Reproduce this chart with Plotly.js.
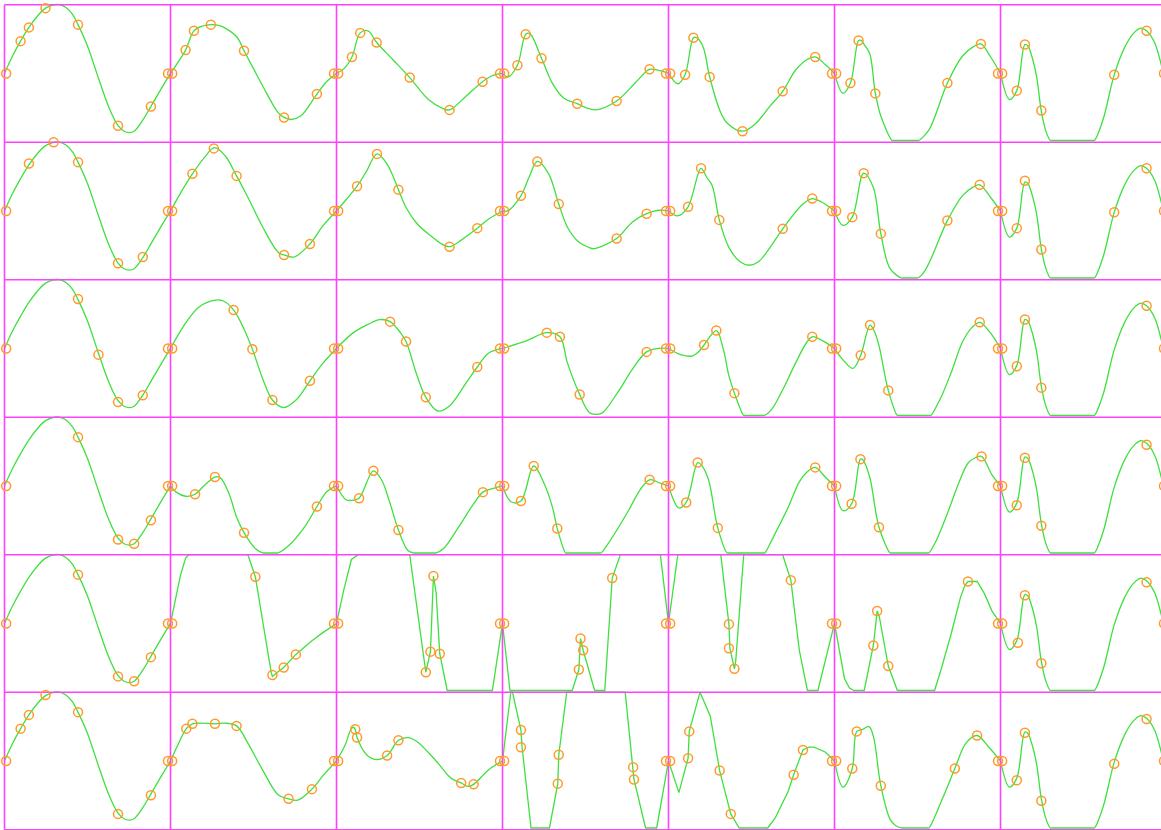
<!DOCTYPE html>
<html><head><meta charset="utf-8">
<script src="https://cdn.plot.ly/plotly-3.0.1.min.js"></script>
<style>html,body{margin:0;padding:0;overflow:hidden;background:#fff}#chart{width:1161px;height:830px}</style>
</head><body><div id="chart"></div>
<script>
// Each panel: local x in [0,1], local y in [-1,1] (0 = panel middle)
const COL1_CURVE=[[0,0],[0.05,0.26],[0.097,0.47],[0.147,0.67],[0.2,0.84],[0.247,0.95],[0.29,0.995],[0.33,1.0],[0.37,0.96],[0.41,0.86],[0.443,0.71],[0.5,0.4],[0.566,-0.07],[0.63,-0.5],[0.684,-0.76],[0.72,-0.84],[0.753,-0.86],[0.781,-0.84],[0.833,-0.68],[0.882,-0.48],[0.94,-0.24],[1,0]];
const COL7_CURVE=[[0,0],[0.054,-0.38],[0.098,-0.25],[0.147,0.42],[0.165,0.40],[0.185,0.28],[0.217,-0.04],[0.246,-0.55],[0.275,-0.85],[0.30,-0.975],[0.306,-0.975],[0.56,-0.975],[0.566,-0.975],[0.618,-0.67],[0.685,-0.02],[0.75,0.39],[0.80,0.58],[0.845,0.66],[0.88,0.62],[0.93,0.44],[0.985,0],[1,-0.05]];

// Row 1
const R1C1_MARKS=[[0.01,0],[0.097,0.47],[0.147,0.67],[0.247,0.95],[0.443,0.71],[0.684,-0.76],[0.882,-0.48],[0.985,0]];
const R1C2_CURVE=[[0,0],[0.045,0.16],[0.091,0.34],[0.141,0.62],[0.193,0.69],[0.243,0.71],[0.29,0.70],[0.33,0.66],[0.4,0.53],[0.443,0.33],[0.5,0.07],[0.557,-0.19],[0.648,-0.57],[0.684,-0.64],[0.727,-0.67],[0.784,-0.62],[0.882,-0.3],[0.94,-0.12],[1,0]];
const R1C2_MARKS=[[0.01,0],[0.091,0.34],[0.141,0.62],[0.243,0.71],[0.443,0.33],[0.684,-0.64],[0.882,-0.3],[0.985,0]];
const R1C3_CURVE=[[0,0],[0.045,0.07],[0.093,0.24],[0.143,0.59],[0.19,0.62],[0.242,0.45],[0.34,0.2],[0.441,-0.06],[0.554,-0.38],[0.633,-0.5],[0.681,-0.53],[0.78,-0.33],[0.88,-0.12],[0.94,-0.03],[1,0]];
const R1C3_MARKS=[[0.01,0],[0.093,0.24],[0.143,0.59],[0.242,0.45],[0.441,-0.06],[0.681,-0.53],[0.88,-0.12],[0.985,0]];
const R1C4_CURVE=[[0,0],[0.034,-0.05],[0.09,0.12],[0.14,0.57],[0.165,0.58],[0.235,0.22],[0.30,-0.14],[0.37,-0.36],[0.45,-0.44],[0.505,-0.5],[0.56,-0.53],[0.6875,-0.40],[0.806,-0.12],[0.886,0.06],[0.95,0.04],[1,0]];
const R1C4_MARKS=[[0.01,0],[0.09,0.12],[0.14,0.57],[0.235,0.22],[0.45,-0.44],[0.6875,-0.40],[0.886,0.06],[0.985,0]];
const R1C5_CURVE=[[0,0],[0.056,-0.15],[0.1,-0.02],[0.15,0.52],[0.17,0.52],[0.208,0.39],[0.248,-0.05],[0.308,-0.53],[0.353,-0.72],[0.446,-0.84],[0.52,-0.74],[0.61,-0.48],[0.688,-0.26],[0.766,0.05],[0.833,0.2],[0.884,0.24],[0.944,0.13],[1,0]];
const R1C5_MARKS=[[0.01,0],[0.1,-0.02],[0.15,0.52],[0.248,-0.05],[0.446,-0.84],[0.688,-0.26],[0.884,0.24],[0.985,0]];
const R1C6_CURVE=[[0,0],[0.051,-0.29],[0.096,-0.14],[0.145,0.48],[0.16,0.48],[0.179,0.42],[0.212,0.29],[0.246,-0.29],[0.279,-0.62],[0.346,-0.975],[0.352,-0.975],[0.501,-0.975],[0.507,-0.975],[0.569,-0.82],[0.68,-0.14],[0.77,0.25],[0.837,0.39],[0.882,0.43],[0.938,0.25],[1,0]];
const R1C6_MARKS=[[0.01,0],[0.096,-0.14],[0.145,0.48],[0.246,-0.29],[0.68,-0.14],[0.882,0.43],[0.985,0]];
const R1C7_MARKS=[[0.01,0],[0.098,-0.25],[0.147,0.42],[0.246,-0.54],[0.685,-0.02],[0.88,0.62],[0.985,0]];

// Row 2
const R2C1_MARKS=[[0.01,0],[0.147,0.69],[0.296,1.0],[0.443,0.71],[0.684,-0.76],[0.833,-0.67],[0.985,0]];
const R2C2_CURVE=[[0,0],[0.07,0.3],[0.132,0.54],[0.205,0.78],[0.265,0.92],[0.33,0.8],[0.398,0.51],[0.466,0.2],[0.557,-0.24],[0.648,-0.6],[0.684,-0.64],[0.745,-0.67],[0.84,-0.48],[0.92,-0.21],[1,0]];
const R2C2_MARKS=[[0.01,0],[0.132,0.54],[0.261,0.91],[0.398,0.51],[0.684,-0.64],[0.84,-0.48],[0.985,0]];
const R2C3_CURVE=[[0,0],[0.06,0.17],[0.124,0.36],[0.181,0.58],[0.244,0.83],[0.305,0.68],[0.373,0.31],[0.419,0.05],[0.487,-0.19],[0.577,-0.38],[0.633,-0.48],[0.681,-0.52],[0.76,-0.41],[0.848,-0.25],[0.915,-0.12],[1,0]];
const R2C3_MARKS=[[0.01,0],[0.124,0.36],[0.244,0.83],[0.373,0.31],[0.681,-0.52],[0.848,-0.25],[0.985,0]];
const R2C4_CURVE=[[0,0],[0.03,0.0],[0.111,0.22],[0.16,0.49],[0.21,0.72],[0.278,0.54],[0.339,0.1],[0.392,-0.24],[0.459,-0.45],[0.52,-0.53],[0.549,-0.55],[0.6875,-0.40],[0.783,-0.16],[0.868,-0.04],[0.94,0.01],[1,0]];
const R2C4_MARKS=[[0.01,0],[0.111,0.22],[0.21,0.72],[0.339,0.1],[0.6875,-0.40],[0.868,-0.04],[0.985,0]];
const R2C5_CURVE=[[0,0],[0.056,-0.07],[0.118,0.06],[0.196,0.62],[0.23,0.49],[0.263,0.37],[0.306,-0.13],[0.364,-0.53],[0.431,-0.74],[0.487,-0.79],[0.542,-0.74],[0.62,-0.5],[0.688,-0.26],[0.81,0.1],[0.866,0.18],[0.922,0.13],[1,0]];
const R2C5_MARKS=[[0.01,0],[0.118,0.06],[0.196,0.62],[0.306,-0.13],[0.688,-0.26],[0.866,0.18],[0.985,0]];
const R2C6_CURVE=[[0,0],[0.051,-0.21],[0.107,-0.09],[0.176,0.55],[0.234,0.34],[0.279,-0.33],[0.335,-0.84],[0.402,-0.975],[0.408,-0.975],[0.496,-0.975],[0.502,-0.975],[0.547,-0.86],[0.68,-0.14],[0.77,0.22],[0.837,0.35],[0.875,0.38],[0.949,0.17],[1,0]];
const R2C6_MARKS=[[0.01,0],[0.107,-0.09],[0.176,0.55],[0.279,-0.33],[0.68,-0.14],[0.875,0.38],[0.985,0]];
const R2C7_MARKS=[[0.01,0],[0.098,-0.25],[0.147,0.44],[0.246,-0.56],[0.685,-0.02],[0.88,0.62],[0.985,0]];

// Row 3
const R3C1_MARKS=[[0.01,0],[0.443,0.72],[0.566,-0.09],[0.684,-0.78],[0.833,-0.68],[0.985,0]];
const R3C2_CURVE=[[0,0],[0.08,0.33],[0.17,0.6],[0.261,0.7],[0.318,0.69],[0.38,0.56],[0.443,0.28],[0.493,-0.01],[0.557,-0.45],[0.614,-0.75],[0.682,-0.86],[0.761,-0.74],[0.84,-0.47],[0.92,-0.21],[1,0]];
const R3C2_MARKS=[[0.01,0],[0.38,0.56],[0.493,-0.01],[0.614,-0.75],[0.84,-0.47],[0.985,0]];
const R3C3_CURVE=[[0,0],[0.102,0.23],[0.19,0.35],[0.26,0.42],[0.323,0.39],[0.385,0.23],[0.419,0.1],[0.486,-0.4],[0.538,-0.71],[0.611,-0.91],[0.679,-0.84],[0.781,-0.5],[0.848,-0.27],[0.915,-0.07],[1,0]];
const R3C3_MARKS=[[0.01,0],[0.323,0.39],[0.419,0.1],[0.538,-0.71],[0.848,-0.27],[0.985,0]];
const R3C4_CURVE=[[0,0],[0.143,0.11],[0.267,0.23],[0.346,0.17],[0.391,-0.21],[0.465,-0.67],[0.523,-0.93],[0.571,-0.96],[0.605,-0.93],[0.694,-0.64],[0.783,-0.3],[0.868,-0.05],[0.94,0],[1,0]];
const R3C4_MARKS=[[0.01,0],[0.267,0.23],[0.346,0.17],[0.465,-0.67],[0.868,-0.05],[0.985,0]];
const R3C5_CURVE=[[0,0],[0.074,-0.09],[0.14,-0.11],[0.185,-0.04],[0.214,0.05],[0.288,0.26],[0.33,-0.01],[0.364,-0.4],[0.397,-0.65],[0.453,-0.975],[0.459,-0.975],[0.57,-0.975],[0.576,-0.975],[0.62,-0.89],[0.688,-0.6],[0.766,-0.21],[0.833,0.09],[0.866,0.17],[0.922,0.12],[1,0]];
const R3C5_MARKS=[[0.01,0],[0.214,0.05],[0.288,0.26],[0.397,-0.65],[0.866,0.17],[0.985,0]];
const R3C6_CURVE=[[0,0],[0.056,-0.18],[0.112,-0.29],[0.158,-0.1],[0.214,0.34],[0.24,0.25],[0.268,0.04],[0.324,-0.61],[0.379,-0.975],[0.385,-0.975],[0.574,-0.975],[0.58,-0.975],[0.636,-0.74],[0.703,-0.35],[0.77,0.09],[0.826,0.3],[0.875,0.38],[0.938,0.23],[1,0]];
const R3C6_MARKS=[[0.01,0],[0.158,-0.1],[0.214,0.34],[0.324,-0.61],[0.875,0.38],[0.985,0]];
const R3C7_MARKS=[[0.01,0],[0.098,-0.26],[0.147,0.42],[0.246,-0.57],[0.88,0.62],[0.985,0]];

// Row 4
const R4C1_MARKS=[[0.01,0],[0.443,0.71],[0.684,-0.78],[0.781,-0.84],[0.882,-0.5],[0.985,0]];
const R4C2_CURVE=[[0,0],[0.034,-0.09],[0.091,-0.15],[0.148,-0.12],[0.205,0.01],[0.268,0.13],[0.3,0.12],[0.352,-0.11],[0.398,-0.45],[0.443,-0.68],[0.511,-0.91],[0.557,-0.975],[0.563,-0.975],[0.642,-0.975],[0.648,-0.975],[0.716,-0.86],[0.807,-0.6],[0.882,-0.3],[0.943,-0.08],[1,0]];
const R4C2_MARKS=[[0.01,0],[0.148,-0.12],[0.268,0.13],[0.443,-0.68],[0.882,-0.3],[0.985,0]];
const R4C3_CURVE=[[0,0],[0.057,-0.2],[0.09,-0.21],[0.136,-0.18],[0.222,0.22],[0.271,0.09],[0.317,-0.21],[0.373,-0.64],[0.43,-0.94],[0.464,-0.975],[0.47,-0.975],[0.594,-0.975],[0.6,-0.975],[0.645,-0.91],[0.735,-0.6],[0.826,-0.26],[0.882,-0.09],[0.94,-0.04],[1,0]];
const R4C3_MARKS=[[0.01,0],[0.136,-0.18],[0.222,0.22],[0.373,-0.64],[0.882,-0.09],[0.985,0]];
const R4C4_CURVE=[[0,0],[0.052,-0.23],[0.111,-0.22],[0.188,0.29],[0.25,0.04],[0.3,-0.3],[0.33,-0.62],[0.38,-0.975],[0.386,-0.975],[0.588,-0.975],[0.594,-0.975],[0.65,-0.79],[0.761,-0.35],[0.828,-0.06],[0.886,0.09],[0.951,0.04],[1,0]];
const R4C4_MARKS=[[0.01,0],[0.111,-0.22],[0.188,0.29],[0.33,-0.62],[0.886,0.09],[0.985,0]];
const R4C5_CURVE=[[0,0],[0.063,-0.32],[0.107,-0.24],[0.176,0.34],[0.2,0.3],[0.241,0.09],[0.297,-0.61],[0.353,-0.975],[0.359,-0.975],[0.574,-0.975],[0.58,-0.975],[0.632,-0.74],[0.721,-0.31],[0.788,0.06],[0.833,0.2],[0.884,0.27],[0.944,0.13],[1,0]];
const R4C5_MARKS=[[0.01,0],[0.107,-0.24],[0.176,0.34],[0.297,-0.61],[0.884,0.27],[0.985,0]];
const R4C6_CURVE=[[0,0],[0.051,-0.36],[0.103,-0.26],[0.156,0.39],[0.17,0.38],[0.212,0.13],[0.268,-0.6],[0.335,-0.975],[0.341,-0.975],[0.563,-0.975],[0.569,-0.975],[0.614,-0.79],[0.68,-0.4],[0.748,0.04],[0.804,0.33],[0.848,0.41],[0.886,0.43],[0.949,0.16],[1,0]];
const R4C6_MARKS=[[0.01,0],[0.103,-0.26],[0.156,0.39],[0.268,-0.6],[0.886,0.43],[0.985,0]];
const R4C7_MARKS=[[0.01,0],[0.098,-0.28],[0.147,0.41],[0.246,-0.58],[0.88,0.6],[0.985,0]];

// Row 5
const R5C1_MARKS=[[0.01,0],[0.443,0.71],[0.684,-0.77],[0.781,-0.84],[0.882,-0.49],[0.985,0]];
const R5C2_CURVE=[[0,0],[0.03,0.35],[0.06,0.7],[0.091,0.95],[0.11,1.0],[0.466,1.0],[0.511,0.68],[0.607,-0.72],[0.614,-0.77],[0.65,-0.7],[0.682,-0.64],[0.755,-0.45],[0.852,-0.25],[0.92,-0.13],[1,0]];
const R5C2_MARKS=[[0.01,0],[0.511,0.68],[0.614,-0.75],[0.682,-0.64],[0.755,-0.45],[0.985,0]];
const R5C3_CURVE=[[0,0],[0.045,0.5],[0.09,0.93],[0.13,1.0],[0.441,1.0],[0.538,-0.71],[0.566,-0.41],[0.584,0.69],[0.6,0.45],[0.622,-0.44],[0.667,-0.975],[0.939,-0.975],[1,0]];
const R5C3_MARKS=[[0.01,0],[0.538,-0.71],[0.566,-0.41],[0.584,0.69],[0.622,-0.44],[0.985,0]];
const R5C4_CURVE=[[0,0],[0.045,-0.975],[0.42,-0.975],[0.46,-0.67],[0.47,-0.22],[0.486,-0.39],[0.555,-0.975],[0.616,-0.975],[0.661,0.66],[0.71,1.0],[0.951,1.0],[1,0]];
const R5C4_MARKS=[[0.01,0],[0.46,-0.67],[0.47,-0.22],[0.486,-0.39],[0.661,0.66],[0.985,0]];
const R5C5_CURVE=[[0,0],[0.056,1.0],[0.315,1.0],[0.364,-0.01],[0.37,-0.36],[0.397,-0.66],[0.405,-0.55],[0.453,1.0],[0.6875,1.0],[0.737,0.63],[0.788,-0.39],[0.837,-0.975],[0.9,-0.975],[1,0]];
const R5C5_MARKS=[[0.01,0],[0.364,-0.01],[0.364,-0.36],[0.397,-0.66],[0.737,0.63],[0.985,0]];
const R5C6_CURVE=[[0,0],[0.06,-0.8],[0.09,-0.94],[0.118,-0.975],[0.179,-0.975],[0.234,-0.32],[0.257,0.18],[0.27,0.1],[0.324,-0.62],[0.379,-0.975],[0.603,-0.975],[0.647,-0.63],[0.703,-0.15],[0.759,0.38],[0.785,0.55],[0.804,0.61],[0.86,0.61],[0.904,0.43],[0.949,0.18],[1,0]];
const R5C6_MARKS=[[0.01,0],[0.234,-0.32],[0.257,0.18],[0.324,-0.62],[0.804,0.61],[0.985,0]];
const R5C7_MARKS=[[0.01,0],[0.105,-0.28],[0.147,0.41],[0.246,-0.58],[0.88,0.6],[0.985,0]];

// Row 6
const R6C1_MARKS=[[0.01,0],[0.097,0.47],[0.147,0.67],[0.247,0.96],[0.443,0.71],[0.684,-0.77],[0.882,-0.5],[0.985,0]];
const R6C2_CURVE=[[0,0],[0.05,0.26],[0.095,0.47],[0.132,0.54],[0.17,0.55],[0.268,0.54],[0.33,0.55],[0.398,0.51],[0.466,0.26],[0.557,-0.14],[0.648,-0.49],[0.711,-0.55],[0.766,-0.57],[0.852,-0.41],[0.92,-0.21],[1,0]];
const R6C2_MARKS=[[0.01,0],[0.095,0.47],[0.132,0.54],[0.268,0.54],[0.398,0.51],[0.711,-0.55],[0.852,-0.41],[0.985,0]];
const R6C3_CURVE=[[0,0],[0.05,0.22],[0.085,0.45],[0.1,0.49],[0.113,0.46],[0.124,0.34],[0.181,0.09],[0.238,0.02],[0.305,0.08],[0.373,0.3],[0.43,0.34],[0.486,0.28],[0.6,0.0],[0.69,-0.25],[0.751,-0.32],[0.79,-0.37],[0.826,-0.34],[0.915,-0.13],[1,0]];
const R6C3_MARKS=[[0.01,0],[0.113,0.46],[0.124,0.34],[0.305,0.08],[0.373,0.3],[0.751,-0.32],[0.826,-0.34],[0.985,0]];
const R6C4_CURVE=[[0,0],[0.05,1.0],[0.06,1.0],[0.111,0.45],[0.118,0.2],[0.172,-0.975],[0.283,-0.975],[0.333,-0.33],[0.339,0.09],[0.387,1.0],[0.739,1.0],[0.787,-0.09],[0.792,-0.27],[0.862,-0.975],[0.929,-0.975],[1,0]];
const R6C4_MARKS=[[0.01,0],[0.111,0.45],[0.111,0.2],[0.333,-0.33],[0.339,0.09],[0.787,-0.09],[0.792,-0.27],[0.985,0]];
const R6C5_CURVE=[[0,0],[0.0625,-0.46],[0.118,0.04],[0.125,0.43],[0.19,1.0],[0.252,0.65],[0.308,-0.14],[0.375,-0.77],[0.426,-0.975],[0.598,-0.975],[0.643,-0.83],[0.721,-0.44],[0.754,-0.2],[0.81,0.16],[0.845,0.2],[0.877,0.2],[0.944,0.13],[1,0]];
const R6C5_MARKS=[[0.01,0],[0.118,0.04],[0.125,0.43],[0.308,-0.14],[0.375,-0.77],[0.754,-0.2],[0.81,0.16],[0.985,0]];
const R6C6_CURVE=[[0,0],[0.051,-0.38],[0.107,-0.11],[0.134,0.43],[0.17,0.46],[0.208,0.5],[0.235,0.35],[0.279,-0.36],[0.335,-0.85],[0.368,-0.94],[0.402,-0.975],[0.408,-0.975],[0.563,-0.975],[0.569,-0.975],[0.65,-0.55],[0.725,-0.11],[0.792,0.26],[0.859,0.37],[0.926,0.21],[1,0]];
const R6C6_MARKS=[[0.01,0],[0.107,-0.11],[0.134,0.43],[0.279,-0.36],[0.725,-0.11],[0.859,0.37],[0.985,0]];
const R6C7_MARKS=[[0.01,0],[0.098,-0.28],[0.147,0.41],[0.246,-0.58],[0.685,-0.04],[0.88,0.61],[0.985,0]];

const PANELS=[
 [[COL1_CURVE,R1C1_MARKS],[R1C2_CURVE,R1C2_MARKS],[R1C3_CURVE,R1C3_MARKS],[R1C4_CURVE,R1C4_MARKS],[R1C5_CURVE,R1C5_MARKS],[R1C6_CURVE,R1C6_MARKS],[COL7_CURVE,R1C7_MARKS]],
 [[COL1_CURVE,R2C1_MARKS],[R2C2_CURVE,R2C2_MARKS],[R2C3_CURVE,R2C3_MARKS],[R2C4_CURVE,R2C4_MARKS],[R2C5_CURVE,R2C5_MARKS],[R2C6_CURVE,R2C6_MARKS],[COL7_CURVE,R2C7_MARKS]],
 [[COL1_CURVE,R3C1_MARKS],[R3C2_CURVE,R3C2_MARKS],[R3C3_CURVE,R3C3_MARKS],[R3C4_CURVE,R3C4_MARKS],[R3C5_CURVE,R3C5_MARKS],[R3C6_CURVE,R3C6_MARKS],[COL7_CURVE,R3C7_MARKS]],
 [[COL1_CURVE,R4C1_MARKS],[R4C2_CURVE,R4C2_MARKS],[R4C3_CURVE,R4C3_MARKS],[R4C4_CURVE,R4C4_MARKS],[R4C5_CURVE,R4C5_MARKS],[R4C6_CURVE,R4C6_MARKS],[COL7_CURVE,R4C7_MARKS]],
 [[COL1_CURVE,R5C1_MARKS],[R5C2_CURVE,R5C2_MARKS],[R5C3_CURVE,R5C3_MARKS],[R5C4_CURVE,R5C4_MARKS],[R5C5_CURVE,R5C5_MARKS],[R5C6_CURVE,R5C6_MARKS],[COL7_CURVE,R5C7_MARKS]],
 [[COL1_CURVE,R6C1_MARKS],[R6C2_CURVE,R6C2_MARKS],[R6C3_CURVE,R6C3_MARKS],[R6C4_CURVE,R6C4_MARKS],[R6C5_CURVE,R6C5_MARKS],[R6C6_CURVE,R6C6_MARKS],[COL7_CURVE,R6C7_MARKS]]
];
// panels drawn with straight segments (row, col), 0-based
const LINEAR_PANELS=['4,1','4,2','4,3','4,4','4,5','5,3','5,4'];

const NR=PANELS.length, NC=PANELS[0].length;
const GREEN='#3fe03f', ORANGE='#ff9a2a', MAGENTA='#ff40ff';
const toX=(c,u)=>c+u;
const toY=(r,v)=>(NR-1-r)+0.5+0.5*v;

const curveTraces=[];
const mx=[], my=[];
for(let r=0;r<NR;r++){
  for(let c=0;c<NC;c++){
    const [curve,marks]=PANELS[r][c];
    const lin=LINEAR_PANELS.includes(r+','+c);
    curveTraces.push({
      type:'scatter',mode:'lines',hoverinfo:'skip',showlegend:false,
      x:curve.map(p=>toX(c,p[0])),y:curve.map(p=>toY(r,p[1])),
      line:{color:GREEN,width:1.3,shape:lin?'linear':'spline',smoothing:1}
    });
    marks.forEach(p=>{mx.push(toX(c,p[0]));my.push(toY(r,p[1]));});
  }
}
const gx=[],gy=[];
for(let c=0;c<=NC;c++){gx.push(c,c,null);gy.push(0,NR,null);}
for(let r=0;r<=NR;r++){gx.push(0,NC,null);gy.push(r,r,null);}
const gridTrace={type:'scatter',mode:'lines',x:gx,y:gy,hoverinfo:'skip',showlegend:false,
  line:{color:MAGENTA,width:1.6},connectgaps:false};
const markTrace={type:'scatter',mode:'markers',x:mx,y:my,hoverinfo:'skip',showlegend:false,cliponaxis:true,
  marker:{symbol:'circle-open',size:9,color:ORANGE,line:{width:1.5,color:ORANGE}}};

const W=1161,H=830;
const colPx=166, x0Px=4.5, rowPx=137.5, y0Px=4.7;
const layout={
  width:W,height:H,margin:{l:0,r:0,t:0,b:0},
  paper_bgcolor:'#fff',plot_bgcolor:'#fff',showlegend:false,
  xaxis:{range:[-x0Px/colPx,(W-x0Px)/colPx],visible:false,fixedrange:true},
  yaxis:{range:[NR-(H-y0Px)/rowPx,NR+y0Px/rowPx],visible:false,fixedrange:true}
};
Plotly.newPlot('chart',[...curveTraces,gridTrace,markTrace],layout,{staticPlot:true,displayModeBar:false});
</script></body></html>
